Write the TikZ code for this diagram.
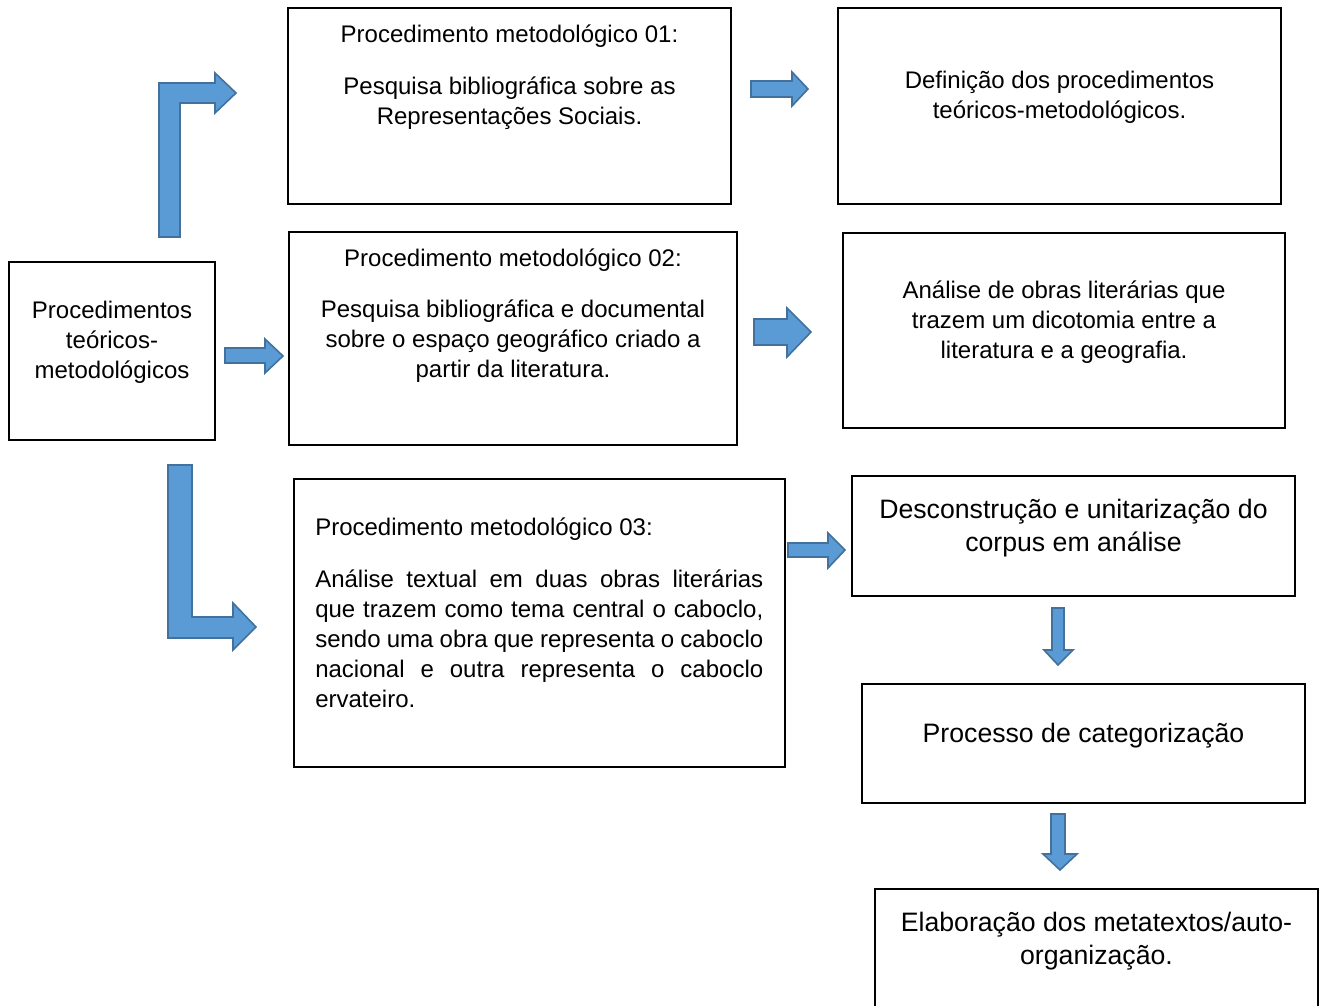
\documentclass[tikz,border=0pt]{standalone}
\usepackage{fontspec}
\setmainfont{Liberation Sans}
\usetikzlibrary{positioning}
\definecolor{blkfill}{HTML}{5B9BD5}
\definecolor{blkline}{HTML}{41719C}

\begin{document}
\begin{tikzpicture}[
  x=0.75pt, y=-0.75pt,
  font=\fontsize{18pt}{22.5pt}\selectfont,
  box/.style={rectangle, draw=black, line width=1.5pt, fill=white, inner sep=0pt},
  txt/.style={inner sep=0pt, align=center},
  bigtxt/.style={font=\fontsize{20pt}{24.75pt}\selectfont},
  blk/.style={fill=blkfill, draw=blkline, line width=1.2pt, line join=miter}
]
\useasboundingbox (0,0) rectangle (1325,1006);
\clip (0,0) rectangle (1325,1006);
\fill[white] (0,0) rectangle (1325,1006);

% left box
\node[box, minimum width=154.5pt, minimum height=133.5pt] (proc) at (112,351) {};
\node[txt, below=27pt of proc.north] (tproc) {\strut Procedimentos\\teóricos-\\metodológicos};

% row 1
\node[box, minimum width=332.25pt, minimum height=147pt] (p1) at (509.5,106) {};
\node[txt, below=10.5pt of p1.north] (tp1)
  {\strut Procedimento metodológico 01:\\[16.5pt]Pesquisa bibliográfica sobre as\\Representações Sociais.};
\node[box, minimum width=332.25pt, minimum height=147pt] (def) at (1059.5,106) {};
\node[txt, below=45pt of def.north] (tdef)
  {\strut Definição dos procedimentos\\teóricos-metodológicos.};

% row 2
\node[box, minimum width=336pt, minimum height=159.75pt] (p2) at (513,338.5) {};
\node[txt, below=10.5pt of p2.north] (tp2)
  {\strut Procedimento metodológico 02:\\[15.75pt]Pesquisa bibliográfica e documental\\sobre o espaço geográfico criado a\\partir da literatura.};
\node[box, minimum width=331.5pt, minimum height=146.25pt] (ana) at (1064,330.5) {};
\node[txt, below=33.75pt of ana.north] (tana)
  {\strut Análise de obras literárias que\\trazem um dicotomia entre a\\literatura e a geografia.};

% row 3
\node[box, minimum width=368.25pt, minimum height=216pt] (p3) at (539.5,623) {};
\node[txt, align=justify, text width=336pt, below right=27pt and 16.5pt of p3.north west] (tp3)
  {\noindent\strut Procedimento metodológico 03:\\[16.5pt]
   Análise textual em duas obras literárias\linebreak
   que trazem como tema central o caboclo,\linebreak
   sendo uma obra que representa o caboclo\linebreak
   nacional e outra representa o caboclo\linebreak
   ervateiro.};

% right column
\node[box, minimum width=332.25pt, minimum height=90pt] (des) at (1073.5,536) {};
\node[txt, bigtxt, below=15pt of des.north] (tdes)
  {\strut Desconstrução e unitarização do\\corpus em análise};
\node[box, minimum width=332.25pt, minimum height=89.25pt] (cat) at (1083.5,743.5) {};
\node[txt, bigtxt, below=27pt of cat.north] (tcat) {\strut Processo de categorização};
\node[box, minimum width=332.25pt, minimum height=112.5pt] (elab) at (1096.5,964) {};
\node[txt, bigtxt, below=15pt of elab.north] (telab)
  {\strut Elaboração dos metatextos/auto-\\organização.};

% block arrows
\draw[blk] (159,237) -- (159,83) -- (215,83) -- (215,73) -- (236,93) -- (215,113)
  -- (215,103) -- (180,103) -- (180,237) -- cycle;
\draw[blk] (168,465) -- (192,465) -- (192,617) -- (233,617) -- (233,603) -- (256,627)
  -- (233,650) -- (233,638) -- (168,638) -- cycle;
\draw[blk] (225,348) -- (265,348) -- (265,339) -- (283,356) -- (265,373) -- (265,363) -- (225,363) -- cycle;
\draw[blk] (751,81) -- (792,81) -- (792,72) -- (808,89) -- (792,106) -- (792,97) -- (751,97) -- cycle;
\draw[blk] (754,319) -- (787,319) -- (787,308) -- (811,332) -- (787,357) -- (787,345) -- (754,345) -- cycle;
\draw[blk] (788,543) -- (828,543) -- (828,533) -- (845,550) -- (828,568) -- (828,557) -- (788,557) -- cycle;
\draw[blk] (1052,608) -- (1052,650) -- (1044,650) -- (1058,665) -- (1073,650) -- (1064,650) -- (1064,608) -- cycle;
\draw[blk] (1051,814) -- (1051,854) -- (1043,854) -- (1060,870) -- (1077,854) -- (1065,854) -- (1065,814) -- cycle;
\end{tikzpicture}
\end{document}
